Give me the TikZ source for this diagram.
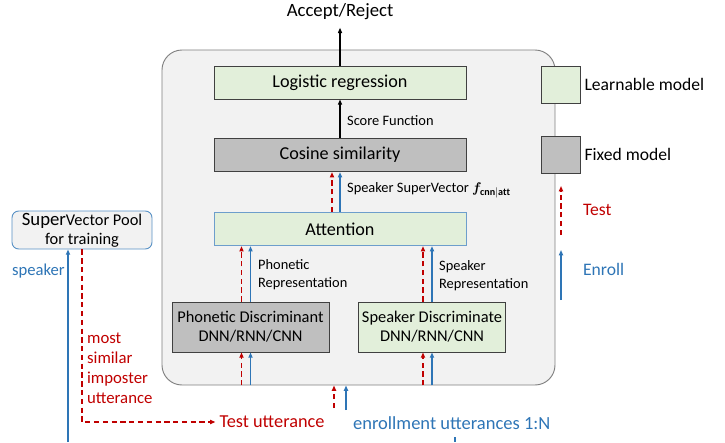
\documentclass[tikz,border=0pt]{standalone}
\usepackage{fontspec}
\setmainfont{Carlito}
\usepackage{bm}
\usepackage{tikz}
\usetikzlibrary{positioning, arrows.meta}

\definecolor{testred}{HTML}{C00000}
\definecolor{enrollblue}{HTML}{2E75B6}
\definecolor{learngreen}{HTML}{E2EFDA}
\definecolor{fixedgray}{HTML}{BFBFBF}
\definecolor{panelgray}{HTML}{F2F2F2}

\begin{document}
\begin{tikzpicture}[x=0.03cm, y=-0.03cm,
  box/.style={draw=black!75, line width=0.8pt, minimum width=7.56cm, minimum height=1.0cm,
    font=\fontsize{15.5}{16}\selectfont, align=center},
  learnbox/.style={box, fill=learngreen},
  fixedbox/.style={box, fill=fixedgray},
  tip/.style={-{Triangle[length=4.5pt, width=3.5pt]}},
  testline/.style={tip, testred, line width=1.1pt, dash pattern=on 4.5pt off 3pt},
  enrolline/.style={tip, enrollblue, line width=1.1pt},
  lbl/.style={anchor=west, font=\fontsize{12.3}{15.3}\selectfont, align=left},
  legtext/.style={anchor=west, font=\fontsize{15}{17}\selectfont},
]
\useasboundingbox (0,0) rectangle (725,442);

% main panel
\node[draw=black!50, line width=0.8pt, fill=panelgray, rounded corners=0.6cm,
  minimum width=11.79cm, minimum height=10.05cm] (core) at (358.5,217.5) {};

% model blocks
\node[learnbox, minimum height=0.99cm] (logit) at (340,82.5) {Logistic regression};
\node[fixedbox] (cos) at (340,155) {Cosine similarity};
\node[learnbox, draw=enrollblue!70] (att) at (340,229) {Attention};
\node[fixedbox, minimum width=4.71cm, minimum height=1.5cm, font=\fontsize{14}{16}\selectfont]
  (pho) at (250.5,327) {Phonetic Discriminant\\DNN/RNN/CNN};
\node[learnbox, minimum width=4.38cm, minimum height=1.5cm, font=\fontsize{14}{16}\selectfont]
  (spk) at (432,327) {Speaker Discriminate\\DNN/RNN/CNN};

% output
\node[font=\fontsize{16}{18}\selectfont] (out) at (340,12) {Accept/Reject};
\draw[tip, line width=1pt, shorten >=3pt] (logit.north) -- (out.south);
\draw[tip, line width=1pt] (cos.north) -- (logit.south);
\node[lbl] (score) at (343,121) {Score Function};

% attention to cosine
\draw[testline] ([xshift=-0.24cm]att.north) -- ([xshift=-0.24cm]cos.south);
\draw[enrolline] (att.north) -- (cos.south);
\node[lbl] (svec) at (343,190) {Speaker SuperVector $\bm{f}_{\mathbf{cnn|att}}$};

% discriminators to attention
\draw[testline] ([xshift=-0.27cm]pho.north) -- ([xshift=-0.27cm]pho.north |- att.south);
\draw[enrolline] (pho.north) -- (pho.north |- att.south);
\node[lbl] (phorep) at (254,275) {Phonetic\\Representation};
\draw[testline] ([xshift=-0.27cm]spk.north) -- ([xshift=-0.27cm]spk.north |- att.south);
\draw[enrolline] (spk.north) -- (spk.north |- att.south);
\node[lbl] (spkrep) at (435,276) {Speaker\\Representation};

% panel inputs
\draw[testline] ([xshift=-0.27cm]pho.south |- core.south) -- ([xshift=-0.27cm]pho.south);
\draw[enrolline] (pho.south |- core.south) -- (pho.south);
\draw[testline] ([xshift=-0.27cm]spk.south |- core.south) -- ([xshift=-0.27cm]spk.south);
\draw[enrolline] (spk.south |- core.south) -- (spk.south);

% utterances
\node[font=\fontsize{15.6}{17}\selectfont, text=testred] (tu) at (272,422) {Test utterance};
\node[font=\fontsize{15.8}{17}\selectfont, text=enrollblue, anchor=west] (eu) at (349,423)
  {enrollment utterances 1:N};
\coordinate (testin) at (334,408);
\coordinate (enrin) at (346,410);
\coordinate (enrfoot) at (455,442);
\draw[testline] (testin) -- (testin |- core.south);
\draw[enrolline] (enrin) -- (enrin |- core.south);
\draw[enrollblue, line width=1.1pt] (455,437) -- (enrfoot);

% supervector pool
\node[draw=enrollblue!80, line width=0.8pt, fill=panelgray, rounded corners=0.2cm,
  minimum width=4.2cm, minimum height=1.14cm, align=center, inner sep=1pt,
  font=\fontsize{14}{16}\selectfont] (pool) at (82,230)
  {{\fontsize{16}{16}\selectfont Super}Vector Pool\\for training};
\coordinate (spkfoot) at (68,442);
\draw[enrolline] (spkfoot) -- (spkfoot |- pool.south);
\node[anchor=west, text=enrollblue, font=\fontsize{14.2}{16}\selectfont] (spklbl) at (8,271) {speaker};
\draw[testline] (pool.south) |- (tu.west);
\node[anchor=west, text=testred, align=left, font=\fontsize{14.3}{17}\selectfont] (imp) at (83,368)
  {most\\similar\\imposter\\utterance};

% legend
\node[learnbox, minimum width=1.17cm, minimum height=1.11cm] (leglearn) at (560.5,84.5) {};
\node[legtext] at (leglearn.east) {Learnable model};
\node[fixedbox, minimum width=1.17cm, minimum height=1.11cm] (legfixed) at (560.5,154.5) {};
\node[legtext] at (legfixed.east) {Fixed model};
\coordinate (legt0) at (561,235);
\coordinate (legt1) at (561,186);
\draw[testline] (legt0) -- (legt1);
\node[legtext, text=testred] (legtest) at (579,210) {Test};
\coordinate (lege0) at (561,300);
\coordinate (lege1) at (561,250);
\draw[enrolline] (lege0) -- (lege1);
\node[legtext, text=enrollblue] (legenr) at (579,269) {Enroll};
\end{tikzpicture}
\end{document}
